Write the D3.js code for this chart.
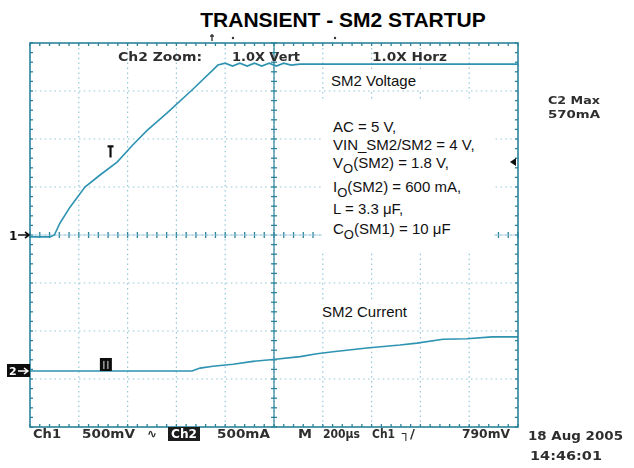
<!DOCTYPE html>
<html>
<head>
  <meta charset="utf-8">
  <script src="https://cdn.jsdelivr.net/npm/d3@7"></script>
  <style>
    body { margin: 0; background: #fff; }
  </style>
</head>
<body>
<script type="text/javascript">

// Ch1 - SM2 voltage (time in us, volts)
var v_time  = [0, 82, 100, 123, 164, 225, 287, 357, 422, 480, 561, 664, 750, 770, 800, 830, 860, 890, 920, 950, 980, 1010, 1040, 1070, 1107, 1400, 1700, 2000];
var v_value = [-0.02, -0.02, 0.0, 0.125, 0.29, 0.5, 0.625, 0.76, 0.94, 1.09, 1.27, 1.51, 1.72, 1.77, 1.79, 1.76, 1.79, 1.76, 1.79, 1.76, 1.79, 1.76, 1.79, 1.77, 1.78, 1.78, 1.78, 1.78];

// Ch2 - SM2 current (time in us, amps)
var i_time  = [0, 664, 697, 750, 832, 914, 996, 1107, 1176, 1242, 1381, 1516, 1586, 1693, 1791, 1893, 2000];
var i_value = [0, 0, 0.03, 0.05, 0.07, 0.10, 0.12, 0.15, 0.18, 0.20, 0.24, 0.27, 0.29, 0.33, 0.335, 0.355, 0.355];

// scope settings
var time_div = 200, volt_div = 0.5, amp_div = 0.5;
var x_divs = 10, y_divs = 8;

var params = [
  [["AC = 5 V,"]],
  [["VIN_SM2/SM2 = 4 V,"]],
  [["V"], ["O", "sub"], ["(SM2) = 1.8 V,"]],
  [["I"], ["O", "sub"], ["(SM2) = 600 mA,"]],
  [["L = 3.3 \u03bcF,"]],
  [["C"], ["O", "sub"], ["(SM1) = 10 \u03bcF"]]
];

function draw() {
  "use strict";

  var W = 634, H = 468;
  var left = 30, right = 518, top = 43, bottom = 427;

  var trace_color = "#2e93b1";
  var frame_color = "#2a8399";
  var grid_color = "#93c6da";
  var scope_text = "#2e2e2e";

  var svg = d3.select("body").append("svg")
              .attr("width", W).attr("height", H);

  var defs = svg.append("defs");
  defs.append("filter").attr("id", "soft")
      .append("feGaussianBlur").attr("stdDeviation", 0.35);

  var x = d3.scaleLinear().domain([0, time_div * x_divs]).range([left, right]);
  var y1 = d3.scaleLinear().domain([-volt_div * y_divs / 2, volt_div * y_divs / 2]).range([bottom, top]);
  // ch2 ground sits 2.83 div below the centre
  var ch2_off = -2.833;
  var y2 = d3.scaleLinear()
             .domain([(-y_divs / 2 - ch2_off) * amp_div, (y_divs / 2 - ch2_off) * amp_div])
             .range([bottom, top]);

/*************************************************************************************************/
/* Title */

  svg.append("text")
     .attr("x", 343).attr("y", 27)
     .attr("text-anchor", "middle")
     .style("font-family", "Liberation Sans, Arial, sans-serif")
     .style("font-weight", "bold")
     .style("font-size", "21px")
     .text("TRANSIENT - SM2 STARTUP");

/*************************************************************************************************/
/* Graticule */

  var grid = svg.append("g").attr("class", "grid");

  var xs = d3.range(1, x_divs).map(function(i) { return x(i * time_div); });
  var ys = d3.range(-y_divs / 2 + 1, y_divs / 2).map(function(i) { return y1(i * volt_div); });

  grid.selectAll("line.vx").data(xs).enter().append("line")
      .attr("x1", function(d) { return d; }).attr("x2", function(d) { return d; })
      .attr("y1", top).attr("y2", bottom)
      .attr("stroke", grid_color).attr("stroke-width", 1.2)
      .attr("stroke-dasharray", "1.5,3.4");

  grid.selectAll("line.hy").data(ys).enter().append("line")
      .attr("x1", left).attr("x2", right)
      .attr("y1", function(d) { return d; }).attr("y2", function(d) { return d; })
      .attr("stroke", grid_color).attr("stroke-width", 1.2)
      .attr("stroke-dasharray", "1.5,3.4");

  // minor ticks on centre axes and frame
  var minor_x = d3.range(0, time_div * x_divs + 1, time_div / 5);
  var minor_y = d3.range(-volt_div * y_divs / 2, volt_div * y_divs / 2 + 0.001, volt_div / 5);
  var cx = x(time_div * x_divs / 2), cy = y1(0);

  var ticks = svg.append("g").attr("stroke", frame_color).attr("stroke-width", 1.3);

  ticks.selectAll("line.tcx").data(minor_x).enter().append("line")
       .attr("x1", function(d) { return x(d); }).attr("x2", function(d) { return x(d); })
       .attr("y1", cy - 3).attr("y2", cy + 3);
  ticks.selectAll("line.tcy").data(minor_y).enter().append("line")
       .attr("x1", cx - 3).attr("x2", cx + 3)
       .attr("y1", function(d) { return y1(d); }).attr("y2", function(d) { return y1(d); });
  ticks.selectAll("line.ttop").data(minor_x).enter().append("line")
       .attr("x1", function(d) { return x(d); }).attr("x2", function(d) { return x(d); })
       .attr("y1", top).attr("y2", top + 3);
  ticks.selectAll("line.tbot").data(minor_x).enter().append("line")
       .attr("x1", function(d) { return x(d); }).attr("x2", function(d) { return x(d); })
       .attr("y1", bottom - 3).attr("y2", bottom);
  ticks.selectAll("line.tl").data(minor_y).enter().append("line")
       .attr("x1", left).attr("x2", left + 3)
       .attr("y1", function(d) { return y1(d); }).attr("y2", function(d) { return y1(d); });
  ticks.selectAll("line.tr").data(minor_y).enter().append("line")
       .attr("x1", right - 3).attr("x2", right)
       .attr("y1", function(d) { return y1(d); }).attr("y2", function(d) { return y1(d); });

  // centre lines
  svg.append("line").attr("x1", left).attr("x2", right).attr("y1", cy).attr("y2", cy)
     .attr("stroke", grid_color).attr("stroke-width", 1).attr("opacity", 0.7);
  svg.append("line").attr("x1", cx).attr("x2", cx).attr("y1", top).attr("y2", bottom)
     .attr("stroke", frame_color).attr("stroke-width", 1.2);

/*************************************************************************************************/
/* White boxes behind the annotations */

  var boxes = [[322, 100, 172, 153], [326, 70, 98, 20], [317, 301, 100, 21]];
  svg.selectAll("rect.box").data(boxes).enter().append("rect")
     .attr("x", function(d) { return d[0]; }).attr("y", function(d) { return d[1]; })
     .attr("width", function(d) { return d[2]; }).attr("height", function(d) { return d[3]; })
     .attr("fill", "#fff");

/*************************************************************************************************/
/* Traces */

  var vline = d3.line().x(function(d) { return x(d[0]); }).y(function(d) { return y1(d[1]); });
  var iline = d3.line().x(function(d) { return x(d[0]); }).y(function(d) { return y2(d[1]); });

  svg.append("path").datum(d3.zip(v_time, v_value))
     .attr("d", vline).attr("fill", "none")
     .attr("stroke", trace_color).attr("stroke-width", 1.6);

  svg.append("path").datum(d3.zip(i_time, i_value))
     .attr("d", iline).attr("fill", "none")
     .attr("stroke", trace_color).attr("stroke-width", 1.6);

  // frame
  svg.append("rect").attr("x", left).attr("y", top)
     .attr("width", right - left).attr("height", bottom - top)
     .attr("fill", "none").attr("stroke", frame_color).attr("stroke-width", 1.6);

/*************************************************************************************************/
/* Scope readouts */

  var scope = svg.append("g")
                 .style("font-family", "DejaVu Sans, sans-serif")
                 .style("font-weight", "bold")
                 .style("font-size", "12.5px")
                 .attr("fill", scope_text)
                 .attr("filter", "url(#soft)");

  function readout(txt, x0, x1, yb, col) {
    return scope.append("text").attr("x", x0).attr("y", yb)
                .attr("textLength", x1 - x0).attr("lengthAdjust", "spacingAndGlyphs")
                .attr("fill", col || scope_text)
                .text(txt);
  }

  readout("Ch2 Zoom:", 118, 202, 61);
  readout("1.0X Vert", 232, 300, 61);
  readout("1.0X Horz", 372, 447, 61);

  readout("C2 Max", 548, 600, 104).style("font-size", "11px");
  readout("570mA", 548, 600, 118).style("font-size", "11px");

  readout("Ch1", 33, 61, 438);
  readout("500mV", 82, 135, 438);
  readout("\u223f", 147, 157, 438);
  scope.append("rect").attr("x", 168).attr("y", 427).attr("width", 32).attr("height", 14).attr("fill", "#1a1a1a");
  readout("Ch2", 171, 197, 438, "#fff");
  readout("500mA", 217, 270, 438);
  readout("M", 298, 312, 438);
  readout("200\u00b5s", 323, 360, 438);
  readout("Ch1", 372, 395, 438);
  readout("\u2510/", 402, 415, 438);
  readout("790mV", 462, 510, 438);
  readout("18 Aug 2005", 528, 623, 440);
  readout("14:46:01", 530, 602, 460);

/*************************************************************************************************/
/* Channel markers */

  var mk = svg.append("g").attr("filter", "url(#soft)");

  // ch1 ground marker
  mk.append("text").attr("x", 9).attr("y", y1(0) + 5)
    .style("font-family", "DejaVu Sans, sans-serif").style("font-weight", "bold").style("font-size", "12px")
    .attr("fill", "#111").text("1");
  mk.append("path").attr("d", "M18," + y1(0) + "H29M25," + (y1(0) - 3) + "L29," + y1(0) + "L25," + (y1(0) + 3))
    .attr("stroke", "#111").attr("stroke-width", 1.6).attr("fill", "none");

  // ch2 ground marker
  var g2 = y2(0);
  mk.append("rect").attr("x", 7).attr("y", g2 - 7).attr("width", 23).attr("height", 13).attr("fill", "#111");
  mk.append("text").attr("x", 9).attr("y", g2 + 4)
    .style("font-family", "DejaVu Sans, sans-serif").style("font-weight", "bold").style("font-size", "11px")
    .attr("fill", "#fff").text("2");
  mk.append("path").attr("d", "M18," + g2 + "H28M24," + (g2 - 3) + "L28," + g2 + "L24," + (g2 + 3))
    .attr("stroke", "#fff").attr("stroke-width", 1.4).attr("fill", "none");

  // trace labels
  var t1x = x(330), t1y = y1(0.86);
  mk.append("path").attr("d", "M" + (t1x - 3) + "," + (t1y - 6) + "H" + (t1x + 3) + "M" + t1x + "," + (t1y - 6) + "V" + (t1y + 5))
    .attr("stroke", "#111").attr("stroke-width", 2.2).attr("fill", "none");

  var t2x = x(311), t2y = y2(0);
  mk.append("rect").attr("x", t2x - 6).attr("y", t2y - 13).attr("width", 12).attr("height", 13).attr("fill", "#111");
  mk.append("path").attr("d", "M" + (t2x - 2) + "," + (t2y - 10) + "V" + (t2y - 2) + "M" + (t2x + 2) + "," + (t2y - 10) + "V" + (t2y - 2))
    .attr("stroke", "#ddd").attr("stroke-width", 1).attr("fill", "none");

  // trigger level marker on the right edge
  var tl = y1(0.76);
  mk.append("path").attr("d", "M" + (right - 8) + "," + tl + "L" + (right - 2) + "," + (tl - 4) + "V" + (tl + 4) + "Z")
    .attr("fill", "#111");

  // trigger position marker on top
  mk.append("path").attr("d", "M212,34V41M210,36H214").attr("stroke", "#333").attr("stroke-width", 1.4);
  mk.append("circle").attr("cx", 233).attr("cy", 38).attr("r", 1.2).attr("fill", "#333");
  mk.append("circle").attr("cx", 335).attr("cy", 38).attr("r", 1.2).attr("fill", "#333");

/*************************************************************************************************/
/* Annotations */

  var ann = svg.append("g")
               .style("font-family", "Liberation Sans, Arial, sans-serif")
               .style("font-size", "15px")
               .attr("fill", "#111");

  ann.append("text").attr("x", 331).attr("y", 86).text("SM2 Voltage");
  ann.append("text").attr("x", 322).attr("y", 317).text("SM2 Current");

  var baselines = [132, 150, 168, 192, 214, 234];
  var pl = ann.selectAll("text.param").data(params).enter().append("text")
              .attr("class", "param")
              .attr("x", 333)
              .attr("y", function(d, i) { return baselines[i]; });

  pl.each(function(parts) {
    var t = d3.select(this);
    var shifted = false;
    parts.forEach(function(p) {
      var s = t.append("tspan").text(p[0]);
      if (p[1] === "sub") {
        s.attr("dy", 5).style("font-size", "13px");
        shifted = true;
      } else if (shifted) {
        s.attr("dy", -5);
        shifted = false;
      }
    });
  });
}

draw();
</script>
</body>
</html>
